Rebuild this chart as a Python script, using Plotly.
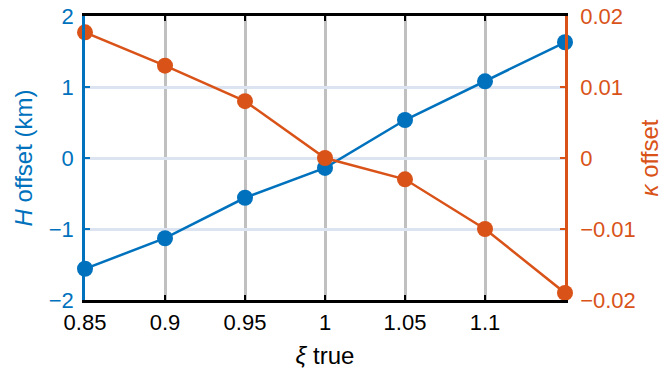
import plotly.graph_objects as go

xi = [0.85, 0.90, 0.95, 1.00, 1.05, 1.10, 1.15]
h_offset = [-1.56, -1.13, -0.56, -0.14, 0.535, 1.08, 1.63]
kappa_offset = [0.0177, 0.013, 0.008, 0.0, -0.003, -0.010, -0.019]
x_ticks = [0.85, 0.9, 0.95, 1.0, 1.05, 1.1]
x_ticktext = ["0.85", "0.9", "0.95", "1", "1.05", "1.1"]
h_ticks = [-2, -1, 0, 1, 2]
k_ticks = [-0.02, -0.01, 0, 0.01, 0.02]
k_ticktext = ["\u22120.02", "\u22120.01", "0", "0.01", "0.02"]

BLUE = "#0072BD"
ORANGE = "#D95319"
FONT = "Liberation Sans, Arial, sans-serif"
TICK = 22
TITLE = 24

fig = go.Figure()
fig.add_trace(go.Scatter(x=xi, y=h_offset, mode="lines+markers", yaxis="y",
                         line=dict(color=BLUE, width=2.5),
                         marker=dict(color=BLUE, size=16), cliponaxis=False,
                         showlegend=False))
fig.add_trace(go.Scatter(x=xi, y=kappa_offset, mode="lines+markers", yaxis="y2",
                         line=dict(color=ORANGE, width=2.5),
                         marker=dict(color=ORANGE, size=16), cliponaxis=False,
                         showlegend=False))

fig.update_layout(
    width=663, height=375,
    margin=dict(l=85, r=98, t=16, b=75, autoexpand=False),
    paper_bgcolor="white", plot_bgcolor="white",
    font=dict(family=FONT, size=TICK, color="black"),
    xaxis=dict(range=[0.85, 1.15], tickvals=x_ticks, ticktext=x_ticktext,
               automargin=False,
               showgrid=True, gridcolor="#c0c0c0", gridwidth=2.5,
               zeroline=False, showline=True, linecolor="black", linewidth=2.5,
               mirror="ticks", ticks="inside", ticklen=5, tickwidth=2, tickcolor="black",
               ticklabelstandoff=1,
               title=dict(text="<i>ξ</i> true", font=dict(size=TITLE), standoff=14),
               tickfont=dict(size=TICK)),
    yaxis=dict(range=[-2, 2], tickvals=h_ticks,
               automargin=False,
               showgrid=True, gridcolor="#dce4f2", gridwidth=2.5,
               zeroline=False, showline=True, linecolor=BLUE, linewidth=2.5,
               ticks="inside", ticklen=5, tickwidth=2, tickcolor=BLUE,
               ticklabelstandoff=4,
               tickfont=dict(color=BLUE, size=TICK),
               title=dict(text="<i>H</i> offset (km)", font=dict(color=BLUE, size=TITLE), standoff=10)),
    yaxis2=dict(range=[-0.02, 0.02], tickvals=k_ticks, ticktext=k_ticktext,
                overlaying="y", side="right", automargin=False,
                showgrid=False, zeroline=False, showline=True, linecolor=ORANGE, linewidth=2.5,
                ticks="inside", ticklen=5, tickwidth=2, tickcolor=ORANGE,
                ticklabelstandoff=8,
                tickfont=dict(color=ORANGE, size=TICK),
                title=dict(text="<i>κ</i> offset", font=dict(color=ORANGE, size=TITLE), standoff=10)),
)

fig.write_html("out.html")
